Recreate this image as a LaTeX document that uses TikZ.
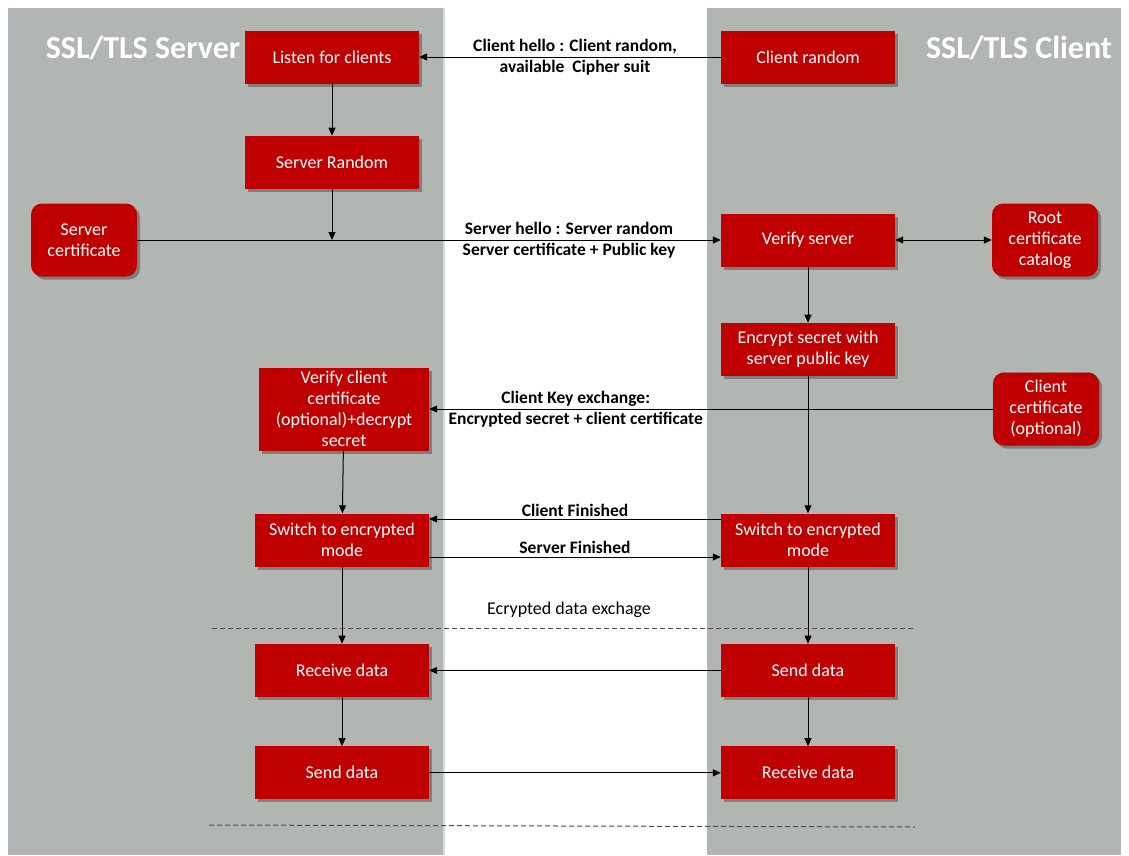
\documentclass[tikz,border=0pt]{standalone}
\usepackage{fontspec}
\setmainfont{Carlito}
\usetikzlibrary{positioning, shadows, arrows.meta}

\definecolor{tlsred}{RGB}{192,0,0}
\definecolor{panelgray}{RGB}{177,182,179}

\tikzset{
  box/.style={fill=tlsred, text=white, minimum width=174pt, minimum height=53pt,
    align=center, font=\fontsize{18}{21}\selectfont,
    drop shadow={shadow xshift=3pt, shadow yshift=-3pt, opacity=.5, fill=black!70}},
  certbox/.style={box, rounded corners=11pt, minimum width=106pt, minimum height=73pt},
  msg/.style={font=\bfseries\fontsize{17.5}{21}\selectfont, align=center},
  flow/.style={line width=1pt, -{Triangle[length=8pt,width=7pt]}},
  sep/.style={line width=1pt, dashed, dash pattern=on 5pt off 3pt, black!70}
}

\begin{document}
\begin{tikzpicture}[x=1pt, y=-1pt, node distance=50pt]
    \useasboundingbox (0,0) rectangle (1129,855);
    % the two sides
    \fill[white] (0,0) rectangle (1129,855);
    \fill[panelgray, drop shadow={shadow xshift=2pt, shadow yshift=0pt, opacity=.3}] (8,8) rectangle (443,855);
    \fill[panelgray] (707,8) rectangle (1121,855);
    \node[text=white, font=\bfseries\fontsize{32}{36}\selectfont] (srvtitle) at (143,48) {SSL/TLS Server};
    \node[text=white, font=\bfseries\fontsize{32}{36}\selectfont] (clttitle) at (1019,48) {SSL/TLS Client};

    % server side
    \node[box] (listen) at (332,57) {Listen for clients};
    \node[box, below=52pt of listen] (srvrandom) {Server Random};
    \node[certbox] (srvcert) at (84,240) {Server\\certificate};
    \node[box, minimum width=170pt, minimum height=83pt] (verifyclt) at (344,409) {Verify client\\certificate\\(optional)+decrypt\\secret};
    \node[box] (switchL) at (342,540) {Switch to encrypted\\mode};
    \node[box, below=77pt of switchL] (receiveL) {Receive data};
    \node[box, below=49pt of receiveL] (sendL) {Send data};

    % client side
    \node[box] (cltrandom) at (808,57) {Client random};
    \node[box] (verifysrv) at (808,240) {Verify server};
    \node[certbox] (rootcert) at (1045,240) {Root\\certificate\\catalog};
    \node[box, below=56pt of verifysrv] (encrypt) {Encrypt secret with\\server public key};
    \node[certbox, draw=black!80, densely dotted] (cltcert) at (1046,409) {Client\\certificate\\(optional)};
    \node[box] (switchR) at (808,540) {Switch to encrypted\\mode};
    \node[box, below=77pt of switchR] (sendR) {Send data};
    \node[box, below=49pt of sendR] (receiveR) {Receive data};

    % hello
    \draw[flow] (cltrandom) -- (listen) node[msg, midway, xshift=5pt] (hello) {Client hello : Client random,\\available\ \ Cipher suit};
    \draw[flow] (listen) -- (srvrandom);
    \coordinate (srvjoin) at (srvrandom |- srvcert);
    \draw[flow] (srvrandom) -- (srvjoin);
    \draw[flow] (srvcert) -- (verifysrv) node[msg, pos=.74] (srvhello) {Server hello : Server random\\Server certificate + Public key};
    \draw[line width=1pt, {Triangle[length=8pt,width=7pt]}-{Triangle[length=8pt,width=7pt]}] (verifysrv) -- (rootcert);
    \draw[flow] (verifysrv) -- (encrypt);

    % key exchange
    \draw[flow] (encrypt) -- (switchR);
    \draw[flow] (cltcert) -- (verifyclt) node[msg, pos=.74] (keyex) {Client Key exchange:\\Encrypted secret + client certificate};
    \draw[flow] (verifyclt) -- (switchL);

    % finished
    \draw[flow] ([yshift=21pt]switchR.west) -- ([yshift=21pt]switchL.east) node[msg, midway, above=-1pt] (cltfin) {Client Finished};
    \draw[flow] ([yshift=-17pt]switchL.east) -- ([yshift=-17pt]switchR.west) node[msg, midway, above=0pt] (srvfin) {Server Finished};

    % data exchange
    \node[font=\fontsize{18}{21}\selectfont] (dataex) at (569,610) {Ecrypted data exchage};
    \coordinate (sepA) at (212,628);
    \coordinate (sepB) at (915,628);
    \draw[sep] (sepA) -- (sepB);
    \draw[flow] (switchL) -- (receiveL);
    \draw[flow] (switchR) -- (sendR);
    \draw[flow] (sendR) -- (receiveL);
    \draw[flow] (receiveL) -- (sendL);
    \draw[flow] (sendR) -- (receiveR);
    \draw[flow] (sendL) -- (receiveR);
    \coordinate (sepC) at (209,825);
    \coordinate (sepD) at (915,827);
    \draw[sep] (sepC) -- (sepD);
\end{tikzpicture}
\end{document}
